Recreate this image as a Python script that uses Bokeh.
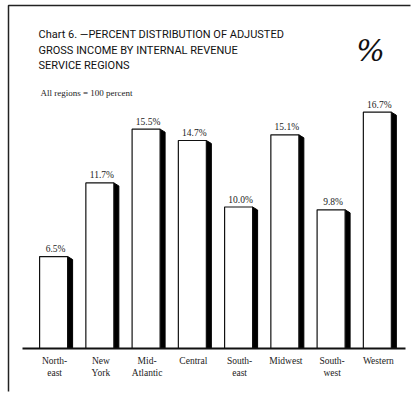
from bokeh.plotting import figure
from bokeh.models import Range1d, Label
from bokeh.core.properties import value
from bokeh.embed import file_html
from bokeh.resources import INLINE

categories = ["North-\neast", "New\nYork", "Mid-\nAtlantic", "Central",
              "South-\neast", "Midwest", "South-\nwest", "Western"]
shares = [6.5, 11.7, 15.5, 14.7, 10.0, 15.1, 9.8, 16.7]
share_labels = ["6.5%", "11.7%", "15.5%", "14.7%", "10.0%", "15.1%", "9.8%", "16.7%"]

W, H = 418, 393
X0, DX = 53.1, 46.25      # pixel centre of first bar, pixels per category
Y0, DY = 348.0, 14.15     # pixel baseline, pixels per percent

def px2x(px):
    return (px - X0) / DX

def py2y(py):
    return (Y0 - py) / DY

p = figure(width=W, height=H, output_backend="svg", toolbar_location=None,
           x_range=Range1d(px2x(0), px2x(W)), y_range=Range1d(py2y(H), py2y(0)),
           min_border=0)
p.axis.visible = False
p.grid.visible = False
p.outline_line_color = None
p.background_fill_color = "white"
p.border_fill_color = "white"

xs = list(range(len(categories)))
bar_w = 28 / DX
sh_w = 5 / DX
sh_drop = 3 / DY

# shadows
px_list, py_list = [], []
for x, v in zip(xs, shares):
    xr = x + bar_w / 2
    px_list.append([xr, xr + sh_w, xr + sh_w, xr])
    py_list.append([v, v - sh_drop, 0, 0])
p.patches(px_list, py_list, fill_color="black", line_color="black", line_width=1)

# bars
p.vbar(x=xs, top=shares, width=bar_w, bottom=0, fill_color="white",
       line_color="#111111", line_width=1.2)

# baseline
p.line([px2x(22), px2x(405)], [0, 0], line_color="#111111", line_width=1.8)

# value labels
p.text(x=[x + 2 / DX for x in xs], y=[v + 7.5 / DY for v in shares], text=share_labels,
       text_font=value("Liberation Serif"), text_font_size="9.5px",
       text_align="center", text_baseline="middle", text_color="#222222")

# category labels
p.text(x=[x + 1 / DX for x in xs], y=[py2y(355)] * len(xs), text=categories,
       text_font=value("Liberation Serif"), text_font_size="9.5px",
       text_align="center", text_baseline="top", text_color="#222222",
       text_line_height=1.2)

# border (top and left edges of the scanned frame)
p.line([px2x(8), px2x(8), px2x(410)], [py2y(391), py2y(5), py2y(5)],
       line_color="#222222", line_width=1.5)

title_lines = ["Chart 6. \u2014PERCENT DISTRIBUTION OF ADJUSTED",
               "GROSS INCOME BY INTERNAL REVENUE",
               "SERVICE REGIONS"]
for i, t in enumerate(title_lines):
    p.add_layout(Label(x=px2x(38), y=py2y(34 + i * 15.5), text=t,
                       text_font="Roboto", text_font_size="11px",
                       text_baseline="middle", text_color="#111111"))

p.add_layout(Label(x=px2x(370), y=py2y(50), text="%", text_font="DejaVu Serif",
                   text_font_size="30px", text_font_style="italic",
                   text_align="center", text_baseline="middle", text_color="#111111"))

p.add_layout(Label(x=px2x(40), y=py2y(92), text="All regions = 100 percent",
                   text_font="Liberation Serif", text_font_size="9px",
                   text_baseline="middle", text_color="#222222"))

open("out.html", "w").write(file_html(p, INLINE))
